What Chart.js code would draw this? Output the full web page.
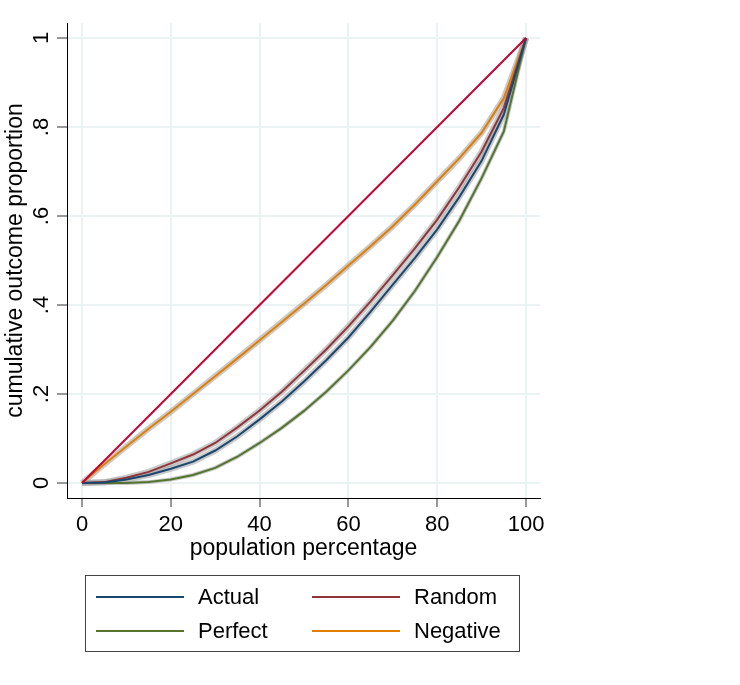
<!DOCTYPE html>
<html>
<head>
    <title>Cumulative outcome curves</title>
    <style>
        body {
            margin: 0;
            padding: 0;
            background-color: #fff;
            font-family: Arial, "Liberation Sans", sans-serif;
        }

        #wrap {
            position: relative;
            width: 740px;
            height: 685px;
        }

        #legend {
            position: absolute;
            left: 85px;
            top: 575px;
            width: 433px;
            height: 75px;
            border: 1px solid #444;
        }

        .item {
            position: absolute;
            display: flex;
            align-items: center;
            height: 26px;
            font-size: 22px;
            color: #000;
        }

        .item .line {
            display: inline-block;
            width: 88px;
            height: 2px;
            margin-right: 14px;
        }
    </style>
    <script src="https://cdn.jsdelivr.net/npm/chart.js"></script>
</head>
<body>
    <div id="wrap">
        <canvas id="lift-chart" width="740" height="685"></canvas>
        <div id="legend"></div>
    </div>

<script>
    // population percentage, every 5%
    var pct = [0, 5, 10, 15, 20, 25, 30, 35, 40, 45, 50, 55, 60, 65, 70, 75, 80, 85, 90, 95, 100];

    // cumulative outcome proportion
    var actual   = [0, 0.001, 0.008, 0.018, 0.032, 0.048, 0.073, 0.105, 0.143, 0.183, 0.228, 0.276, 0.327, 0.385, 0.446, 0.506, 0.570, 0.643, 0.724, 0.828, 1];
    var random   = [0, 0.002, 0.012, 0.025, 0.044, 0.064, 0.090, 0.125, 0.163, 0.205, 0.252, 0.300, 0.352, 0.408, 0.467, 0.528, 0.592, 0.665, 0.745, 0.843, 1];
    var perfect  = [0, 0, 0, 0.002, 0.008, 0.018, 0.034, 0.059, 0.090, 0.124, 0.162, 0.205, 0.253, 0.306, 0.365, 0.432, 0.508, 0.590, 0.685, 0.790, 1];
    var negative = [0, 0.042, 0.082, 0.122, 0.160, 0.200, 0.240, 0.280, 0.321, 0.362, 0.403, 0.445, 0.489, 0.532, 0.577, 0.626, 0.678, 0.730, 0.787, 0.865, 1];
    var diagX = [0, 100];
    var diagY = [0, 1];

    var xTicks = [0, 20, 40, 60, 80, 100];
    var yTicks = [0, 0.2, 0.4, 0.6, 0.8, 1];
    var yTickLabels = ['0', '.2', '.4', '.6', '.8', '1'];

    var fontFamily = 'Arial, "Liberation Sans", sans-serif';

    function points(xs, ys) {
        return ys.map(function (y, i) { return {x: xs[i], y: y}; });
    }

    function curve(label, values, color) {
        return {
            label: label,
            data: points(pct, values),
            borderColor: color,
            borderWidth: 2,
            pointRadius: 0,
            fill: false,
            tension: 0,
            order: 1,
            inLegend: true
        };
    }

    // grey confidence halo drawn under each curve
    function halo(values, width) {
        return {
            label: '',
            data: points(pct, values),
            borderColor: 'rgba(165, 165, 165, 0.6)',
            borderWidth: width,
            pointRadius: 0,
            fill: false,
            tension: 0,
            order: 10,
            inLegend: false
        };
    }

    var datasets = [
        halo(actual, 6),
        halo(random, 6),
        halo(perfect, 4),
        halo(negative, 6),
        curve('Actual', actual, '#1a476f'),
        curve('Random', random, '#90353b'),
        curve('Perfect', perfect, '#55752f'),
        curve('Negative', negative, '#e37e00'),
        {
            label: '',
            data: points(diagX, diagY),
            borderColor: '#c10534',
            borderWidth: 2,
            pointRadius: 0,
            fill: false,
            order: 0,
            inLegend: false
        }
    ];

    var ctx = document.getElementById('lift-chart').getContext('2d');
    var chart = new Chart(ctx, {
        type: 'line',
        data: { datasets: datasets },
        options: {
            responsive: false,
            animation: false,
            devicePixelRatio: 1,
            layout: {
                padding: { left: 0, top: 23, right: 200, bottom: 123 }
            },
            plugins: {
                legend: { display: false },
                tooltip: { enabled: false }
            },
            scales: {
                x: {
                    type: 'linear',
                    min: -3.38,
                    max: 103.15,
                    afterBuildTicks: function (scale) {
                        scale.ticks = xTicks.map(function (v) { return {value: v}; });
                    },
                    afterFit: function (scale) { scale.height = 64; },
                    border: { display: true, color: '#000', width: 1 },
                    grid: { color: '#eaf2f3', lineWidth: 2, tickColor: '#333', tickLength: 9, tickWidth: 1 },
                    ticks: {
                        autoSkip: false,
                        padding: 5,
                        color: '#000',
                        font: { family: fontFamily, size: 22 }
                    },
                    title: {
                        display: true,
                        text: 'population percentage',
                        color: '#000',
                        padding: 0,
                        font: { family: fontFamily, size: 23 }
                    }
                },
                y: {
                    type: 'linear',
                    min: -0.0337,
                    max: 1.0337,
                    afterBuildTicks: function (scale) {
                        scale.ticks = yTicks.map(function (v) { return {value: v}; });
                    },
                    afterFit: function (scale) { scale.width = 67; },
                    border: { display: true, color: '#000', width: 1 },
                    grid: { color: '#eaf2f3', lineWidth: 2, tickColor: '#333', tickLength: 10, tickWidth: 1 },
                    ticks: {
                        autoSkip: false,
                        minRotation: 90,
                        maxRotation: 90,
                        crossAlign: 'center',
                        padding: 6,
                        color: '#000',
                        font: { family: fontFamily, size: 22 },
                        callback: function (value) {
                            var i = yTicks.indexOf(value);
                            return i >= 0 ? yTickLabels[i] : '';
                        }
                    },
                    title: {
                        display: true,
                        text: 'cumulative outcome proportion',
                        color: '#000',
                        padding: { top: 2, bottom: 0 },
                        font: { family: fontFamily, size: 23 }
                    }
                }
            }
        }
    });

    // Legend box under the plot, two columns like the original
    function buildLegend() {
        var box = document.getElementById('legend');
        var items = chart.data.datasets.filter(function (d) { return d.inLegend; });
        var order = ['Actual', 'Random', 'Perfect', 'Negative'];
        order.forEach(function (name, k) {
            var ds = items.find(function (d) { return d.label === name; });
            var el = document.createElement('div');
            el.className = 'item';
            el.style.left = (k % 2 === 0 ? 10 : 226) + 'px';
            el.style.top = (k < 2 ? 8 : 42) + 'px';
            var line = document.createElement('span');
            line.className = 'line';
            line.style.backgroundColor = ds.borderColor;
            var text = document.createElement('span');
            text.innerText = ds.label;
            el.appendChild(line);
            el.appendChild(text);
            box.appendChild(el);
        });
    }
    buildLegend();
</script>

</body>
</html>
